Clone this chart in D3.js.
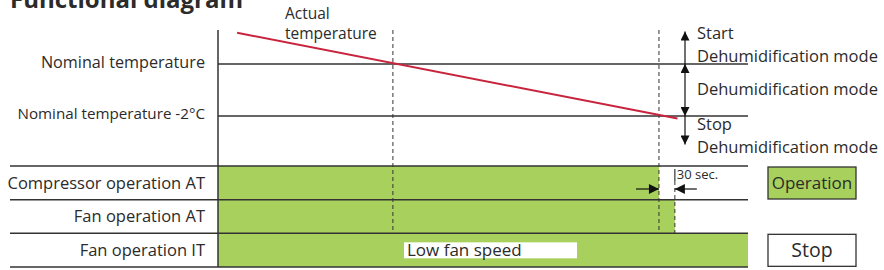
<!DOCTYPE html>
<html>
<head>
<meta charset="utf-8">
<script src="https://cdn.jsdelivr.net/npm/d3@7"></script>
<style>
  body { margin: 0; background: #fff; }
  text { font-family: "Open Sans", sans-serif; fill: #2b2b2b; }
</style>
</head>
<body>
<svg class="diagram" width="884" height="270"></svg>
<script>
// temperature levels (relative to nominal, °C)
const levelLabels = ["Nominal temperature", "Nominal temperature -2°C"];
const levelValues = [0, -2];

// actual temperature line (time in s, temp in °C)
const actualTimes = [36, 867];
const actualTemps = [1.2, -2.1];

// operation rows
const rowLabels = ["Compressor operation AT", "Fan operation AT", "Fan operation IT"];
const rowOnEnd = [832, 862, 1000];

// event times (dashed markers)
const eventTimes = [330, 832];
const fanDelayTime = 862;

// dehumidification zones
const zoneBounds = [1.25, 0, -2, -3.1];
const zoneLabels = [["Start", "Dehumidification mode"], ["Dehumidification mode"], ["Stop", "Dehumidification mode"]];

const legendLabels = ["Operation", "Stop"];
const green = "#a8d05c";

const svg = d3.select(".diagram");

const x = d3.scaleLinear().domain([0, 1000]).range([218, 748]);
const y = d3.scaleLinear().domain([0, -2]).range([64, 116]);
const row = d3.scaleBand().domain(rowLabels).range([166, 267]);

// title (cut at top)
svg.append("text")
  .attr("x", 10).attr("y", 8)
  .style("font-size", "24px").style("font-weight", "bold")
  .text("Functional diagram");

// green operation bars
svg.selectAll(".bar")
  .data(rowLabels)
  .enter()
  .append("rect")
  .attr("class", "bar")
  .attr("x", x(0))
  .attr("y", (d) => row(d))
  .attr("width", (d, i) => x(rowOnEnd[i]) - x(0))
  .attr("height", row.bandwidth())
  .attr("fill", green);

// row divider lines
const rowLines = rowLabels.map((d) => row(d)).concat([row(rowLabels[2]) + row.bandwidth()]);
svg.selectAll(".rowline")
  .data(rowLines)
  .enter()
  .append("line")
  .attr("x1", 10).attr("x2", x(1000))
  .attr("y1", (d) => d).attr("y2", (d) => d)
  .attr("stroke", "#333").attr("stroke-width", 1.5);

svg.selectAll(".rowlabel")
  .data(rowLabels)
  .enter()
  .append("text")
  .attr("x", 205)
  .attr("y", (d) => row(d) + row.bandwidth() / 2)
  .attr("dy", "0.35em")
  .attr("text-anchor", "end")
  .style("font-size", "16.5px")
  .text((d) => d);

// low fan speed box
const lowBox = svg.append("g");
lowBox.append("rect")
  .attr("x", 404).attr("y", row(rowLabels[2]) + 9)
  .attr("width", 173).attr("height", 16)
  .attr("fill", "#fff");
lowBox.append("text")
  .attr("x", 407).attr("y", row(rowLabels[2]) + row.bandwidth() / 2)
  .attr("dy", "0.35em")
  .style("font-size", "17px")
  .text("Low fan speed");

// vertical axis
svg.append("line")
  .attr("x1", x(0)).attr("x2", x(0))
  .attr("y1", 30).attr("y2", row.range()[1])
  .attr("stroke", "#333").attr("stroke-width", 1.5);

// temperature level lines
svg.selectAll(".level")
  .data(levelValues)
  .enter()
  .append("line")
  .attr("x1", x(0)).attr("x2", x(1000))
  .attr("y1", (d) => y(d)).attr("y2", (d) => y(d))
  .attr("stroke", "#333").attr("stroke-width", 1.5);

svg.selectAll(".levellabel")
  .data(levelValues)
  .enter()
  .append("text")
  .attr("x", 205)
  .attr("y", (d) => y(d) - 2)
  .attr("dy", "0.35em")
  .attr("text-anchor", "end")
  .style("font-size", (d, i) => (i === 0 ? "16.2px" : "15.2px"))
  .text((d, i) => levelLabels[i]);

// dashed event markers
svg.selectAll(".event")
  .data(eventTimes)
  .enter()
  .append("line")
  .attr("x1", (d) => x(d)).attr("x2", (d) => x(d))
  .attr("y1", 30).attr("y2", row(rowLabels[2]))
  .attr("stroke", "#333").attr("stroke-width", 1)
  .attr("stroke-dasharray", "4,3");

svg.append("line")
  .attr("x1", x(fanDelayTime)).attr("x2", x(fanDelayTime))
  .attr("y1", 169).attr("y2", 181)
  .attr("stroke", "#333").attr("stroke-width", 1.2);
svg.append("line")
  .attr("x1", x(fanDelayTime)).attr("x2", x(fanDelayTime))
  .attr("y1", 181).attr("y2", row(rowLabels[2]))
  .attr("stroke", "#333").attr("stroke-width", 1)
  .attr("stroke-dasharray", "4,3");

// arrow markers
const defs = svg.append("defs");
defs.append("marker")
  .attr("id", "head")
  .attr("viewBox", "0 0 10 10")
  .attr("refX", 10).attr("refY", 5)
  .attr("markerWidth", 13).attr("markerHeight", 9)
  .attr("markerUnits", "userSpaceOnUse")
  .attr("orient", "auto-start-reverse")
  .append("path")
  .attr("d", "M0,0L10,5L0,10Z")
  .attr("fill", "#111");
defs.append("marker")
  .attr("id", "headBig")
  .attr("viewBox", "0 0 10 10")
  .attr("refX", 10).attr("refY", 5)
  .attr("markerWidth", 14).attr("markerHeight", 10)
  .attr("markerUnits", "userSpaceOnUse")
  .attr("orient", "auto-start-reverse")
  .append("path")
  .attr("d", "M0,0L10,5L0,10Z")
  .attr("fill", "#111");

// 30 sec arrows
const arrowY = 189;
svg.append("line")
  .attr("x1", x(eventTimes[1]) - 23).attr("x2", x(eventTimes[1]))
  .attr("y1", arrowY).attr("y2", arrowY)
  .attr("stroke", "#111").attr("stroke-width", 1.2)
  .attr("marker-end", "url(#headBig)");
svg.append("line")
  .attr("x1", x(fanDelayTime) + 22).attr("x2", x(fanDelayTime))
  .attr("y1", arrowY).attr("y2", arrowY)
  .attr("stroke", "#111").attr("stroke-width", 1.2)
  .attr("marker-end", "url(#headBig)");
svg.append("text")
  .attr("x", x(fanDelayTime) + 2).attr("y", 179)
  .style("font-size", "13px")
  .text("30 sec.");

// actual temperature line
const line = d3.line()
  .x((d, i) => x(actualTimes[i]))
  .y((d) => y(d));
svg.append("path")
  .datum(actualTemps)
  .attr("d", line)
  .attr("fill", "none")
  .attr("stroke", "#c8243d")
  .attr("stroke-width", 2);

const actual = svg.append("text").attr("x", 285).attr("y", 19).style("font-size", "15.5px");
actual.append("tspan").attr("x", 285).text("Actual");
actual.append("tspan").attr("x", 285).attr("dy", 20).text("temperature");

// dehumidification zone arrows
const zoneX = 685;
zoneLabels.forEach((lbl, i) => {
  svg.append("line")
    .attr("x1", zoneX).attr("x2", zoneX)
    .attr("y1", y(zoneBounds[i])).attr("y2", y(zoneBounds[i + 1]))
    .attr("stroke", "#111").attr("stroke-width", 1.2)
    .attr("marker-start", i < 2 ? "url(#head)" : null)
    .attr("marker-end", i > 0 ? "url(#head)" : null);
});

// zone labels, one text element each with stacked lines
const zoneTextY = [33, 89, 124];
zoneLabels.forEach((lbl, i) => {
  const t = svg.append("text")
    .attr("x", 697).attr("y", zoneTextY[i])
    .attr("dy", "0.35em")
    .style("font-size", "16.5px");
  lbl.forEach((s, j) => {
    t.append("tspan").attr("x", 697).attr("dy", j === 0 ? null : 23).text(s);
  });
});

// legend
const legend = svg.selectAll(".legend")
  .data(legendLabels)
  .enter()
  .append("g")
  .attr("transform", (d, i) => `translate(768,${i === 0 ? row(rowLabels[0]) + 1 : row(rowLabels[2]) + 1})`);
legend.append("rect")
  .attr("width", 88).attr("height", 32)
  .attr("fill", (d, i) => (i === 0 ? green : "#fff"))
  .attr("stroke", "#333").attr("stroke-width", 1.3);
legend.append("text")
  .attr("x", 44).attr("y", 16).attr("dy", "0.35em")
  .attr("text-anchor", "middle")
  .style("font-size", (d, i) => (i === 0 ? "17px" : "19.5px"))
  .text((d) => d);
</script>
</body>
</html>
